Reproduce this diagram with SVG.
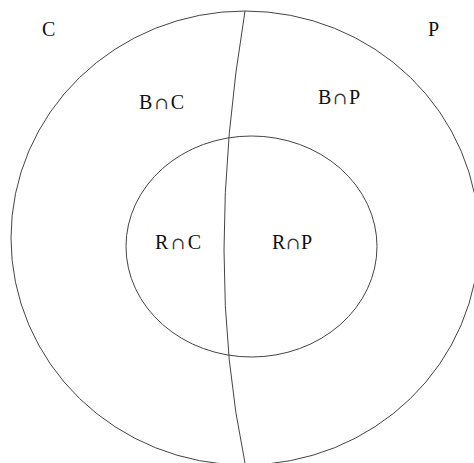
<svg xmlns="http://www.w3.org/2000/svg" width="474" height="463" viewBox="0 0 474 463">
<style>
.ln{fill:none;stroke:#444;stroke-width:1}
.t{font-family:"Liberation Serif","DejaVu Serif",serif;font-size:20px;fill:#111}
.c{font-family:"DejaVu Serif",serif;font-size:17px;fill:#333}
</style>
<rect width="474" height="463" fill="#fff"/>
<g id="outer"><ellipse class="ln" cx="245" cy="238" rx="234" ry="227"/></g>
<g id="inner"><ellipse class="ln" cx="251.5" cy="246.5" rx="125.5" ry="110.5"/></g>
<g id="divider"><path class="ln" d="M245,11 Q203,263 245,463"/></g>
<g id="labels">
<text class="t" x="42" y="36">C</text>
<text class="t" x="428" y="36">P</text>
<text class="t" x="139" y="109" textLength="45" lengthAdjust="spacing">B<tspan class="c">∩</tspan>C</text>
<text class="t" x="318" y="104" textLength="42" lengthAdjust="spacing">B<tspan class="c">∩</tspan>P</text>
<text class="t" x="155" y="249" textLength="46" lengthAdjust="spacing">R<tspan class="c">∩</tspan>C</text>
<text class="t" x="272" y="249" textLength="40" lengthAdjust="spacing">R<tspan class="c">∩</tspan>P</text>
</g>
</svg>
